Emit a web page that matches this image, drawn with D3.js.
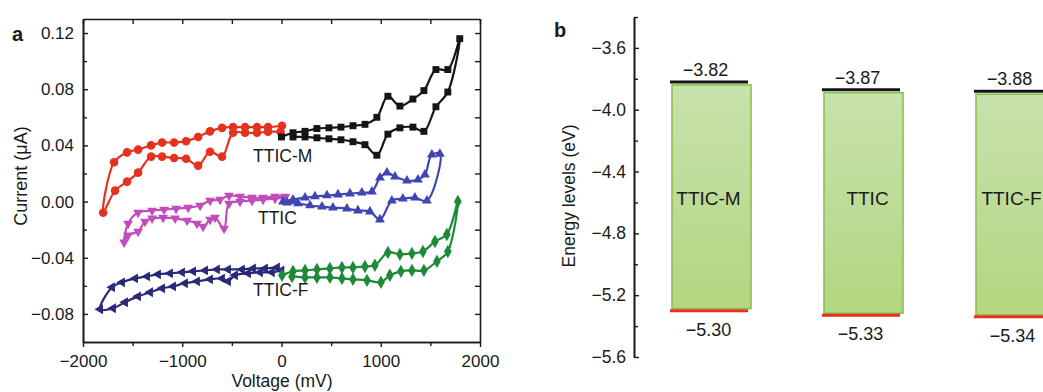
<!DOCTYPE html>
<html>
<head>
<meta charset="utf-8">
<script src="https://cdn.jsdelivr.net/npm/d3@7"></script>
<style>
  body { margin: 0; background: #fff; }
  text { font-family: "Liberation Sans", Arial, sans-serif; fill: #1a1a1a; }
</style>
</head>
<body>
<div id="chart"></div>
<script>
// ---- panel a: cyclic voltammetry, [voltage mV, current uA] along each sweep ----
var ttcmSweep = [[-10,0.0497],[-136,0.0497],[-247,0.049],[-367,0.049],[-488,0.049],[-599,0.032],[-720,0.0355],[-840,0.0256],[-961,0.0305],[-1082,0.031],[-1203,0.032],[-1314,0.032],[-1445,0.0206],[-1556,0.0142],[-1677,0.0078],[-1797,-0.008],[-1687,0.028],[-1556,0.035],[-1445,0.037],[-1314,0.040],[-1203,0.042],[-1082,0.042],[-961,0.043],[-840,0.046],[-720,0.050],[-599,0.0525],[-488,0.053],[-367,0.053],[-247,0.053],[-136,0.053],[5,0.054]];
var ttcmOx = [[0,0.046],[116,0.049],[237,0.050],[357,0.052],[478,0.0525],[599,0.053],[720,0.054],[841,0.055],[961,0.060],[1072,0.075],[1193,0.068],[1324,0.073],[1435,0.079],[1556,0.094],[1676,0.094],[1796,0.116],[1676,0.078],[1556,0.0675],[1435,0.050],[1324,0.053],[1193,0.0525],[1072,0.048],[961,0.033],[841,0.0405],[720,0.0426],[599,0.044],[478,0.0447],[357,0.0454],[237,0.046],[116,0.046]];
var ttcRed = [[35,0.0036],[-65,0.0036],[-186,0.0028],[-297,0.0028],[-418,0.0036],[-529,0.0043],[-619,0.0014],[-720,0.0007],[-820,-0.0028],[-941,-0.0043],[-1062,-0.005],[-1183,-0.0057],[-1304,-0.0064],[-1445,-0.0078],[-1546,-0.0156],[-1586,-0.029],[-1546,-0.024],[-1445,-0.0213],[-1375,-0.0142],[-1304,-0.012],[-1193,-0.0114],[-1072,-0.012],[-951,-0.0135],[-851,-0.0156],[-790,-0.0178],[-720,-0.0128],[-670,-0.0114],[-579,-0.0192],[-529,-0.0014],[-418,0],[-297,0.0007],[-186,0.0014],[-65,0.0021],[35,0.0028]];
var ttcOx = [[15,0],[116,0.0014],[237,0.0028],[337,0.0036],[458,0.0043],[569,0.005],[690,0.0057],[810,0.0064],[911,0.0071],[992,0.017],[1062,0.0206],[1143,0.0178],[1264,0.0149],[1375,0.0156],[1445,0.0192],[1515,0.0334],[1596,0.034],[1465,0.0007],[1344,0.0028],[1223,0.0021],[1112,0.0007],[992,-0.0128],[891,-0.0071],[770,-0.0064],[659,-0.005],[518,-0.0043],[408,-0.0036],[287,-0.0028],[166,-0.0014],[55,-0.0007]];
var ttcfRed = [[-45,-0.0469],[-166,-0.0476],[-287,-0.0476],[-398,-0.0483],[-539,-0.0483],[-650,-0.0483],[-770,-0.049],[-891,-0.0497],[-1002,-0.0504],[-1123,-0.0511],[-1244,-0.0518],[-1354,-0.0533],[-1475,-0.0547],[-1606,-0.0575],[-1707,-0.061],[-1827,-0.0767],[-1697,-0.076],[-1576,-0.0717],[-1445,-0.0675],[-1324,-0.0646],[-1203,-0.0618],[-1092,-0.0604],[-972,-0.0582],[-851,-0.0568],[-720,-0.0554],[-599,-0.0547],[-539,-0.0568],[-468,-0.0525],[-337,-0.0511],[-216,-0.0504],[-96,-0.0504],[0,-0.049]];
var ttcfOx = [[5,-0.0525],[116,-0.0497],[237,-0.049],[357,-0.0483],[488,-0.0476],[609,-0.0469],[720,-0.0469],[841,-0.0462],[941,-0.0454],[1072,-0.0362],[1193,-0.0376],[1314,-0.0369],[1425,-0.0355],[1546,-0.0284],[1666,-0.0234],[1777,0],[1676,-0.0355],[1566,-0.0426],[1435,-0.049],[1314,-0.049],[1203,-0.0497],[1092,-0.0525],[1002,-0.0575],[861,-0.0561],[720,-0.0554],[609,-0.0547],[488,-0.054],[357,-0.054],[237,-0.054],[106,-0.0533]];

var voltTicks = [-2000, -1000, 0, 1000, 2000];
var voltMinor = [-1500, -500, 500, 1500];
var currTicks = [-0.08, -0.04, 0, 0.04, 0.08, 0.12];
var currMinor = [-0.06, -0.02, 0.02, 0.06, 0.10];

var cvLabels = ["TTIC-M", "TTIC", "TTIC-F"];
var cvLabelPos = [[-287, 0.0284], [-237, -0.0163], [-287, -0.0675]];

// ---- panel b: energy levels ----
var molecules = ["TTIC-M", "TTIC", "TTIC-F"];
var lumo = [-3.82, -3.87, -3.88];
var homo = [-5.30, -5.33, -5.34];
var energyTicks = [-5.6, -5.2, -4.8, -4.4, -4.0, -3.6];
var energyMinor = [-5.4, -5.0, -4.6, -4.2, -3.8, -3.4];

var W = 1043, H = 392;
var svg = d3.select("#chart").append("svg")
  .attr("width", W).attr("height", H);

// ================= panel a =================
var x = d3.scaleLinear().domain([-2000, 2000]).range([83, 480]);
var y = d3.scaleLinear().domain([-0.10, 0.13]).range([342, 19]);
var fmtV = d3.format("d"), fmtI = d3.format(".2f");

function styleAxis(g) {
  g.selectAll("path.domain").attr("stroke", "#1a1a1a").attr("stroke-width", 1.6);
  g.selectAll(".tick line").attr("stroke", "#1a1a1a").attr("stroke-width", 1.4);
  g.selectAll("text").attr("font-size", 17).attr("fill", "#1a1a1a")
    .attr("font-family", "Liberation Sans, Arial, sans-serif");
}

// bottom (ticks outward)
svg.append("g").attr("transform", "translate(0,342)")
  .call(d3.axisBottom(x).tickValues(voltTicks).tickFormat(fmtV).tickSize(5).tickSizeOuter(0).tickPadding(8))
  .call(styleAxis);
svg.append("g").attr("transform", "translate(0,342)")
  .call(d3.axisBottom(x).tickValues(voltMinor).tickFormat("").tickSize(4).tickSizeOuter(0))
  .call(styleAxis);
// top (inward)
svg.append("g").attr("transform", "translate(0,19)")
  .call(d3.axisTop(x).tickValues(voltTicks.concat(voltMinor)).tickFormat("").tickSize(-5).tickSizeOuter(0))
  .call(styleAxis);
// left (inward)
svg.append("g").attr("transform", "translate(83,0)")
  .call(d3.axisLeft(y).tickValues(currTicks).tickFormat(fmtI).tickSize(-5).tickSizeOuter(0).tickPadding(9))
  .call(styleAxis);
svg.append("g").attr("transform", "translate(83,0)")
  .call(d3.axisLeft(y).tickValues(currMinor).tickFormat("").tickSize(-4).tickSizeOuter(0))
  .call(styleAxis);
// right (inward)
svg.append("g").attr("transform", "translate(480,0)")
  .call(d3.axisRight(y).tickValues(currTicks.concat(currMinor)).tickFormat("").tickSize(-5).tickSizeOuter(0))
  .call(styleAxis);

svg.append("text").attr("x", 282).attr("y", 387).attr("text-anchor", "middle")
  .attr("font-size", 17.5).text("Voltage (mV)");
svg.append("text").attr("transform", "translate(27,176) rotate(-90)").attr("text-anchor", "middle")
  .attr("font-size", 18).text("Current (μA)");
svg.append("text").attr("x", 12).attr("y", 41).attr("font-size", 20).attr("font-weight", "bold").text("a");

var line = d3.line().x(function(d) { return x(d[0]); }).y(function(d) { return y(d[1]); })
  .curve(d3.curveCatmullRom.alpha(0.5));

var series = [
  { data: ttcmSweep, color: "#e5321f", sym: d3.symbolCircle, size: 58, rot: 0 },
  { data: ttcmOx, color: "#151515", sym: d3.symbolSquare, size: 48, rot: 0 },
  { data: ttcRed, color: "#c24cbd", sym: d3.symbolTriangle, size: 42, rot: 180 },
  { data: ttcOx, color: "#3f46b2", sym: d3.symbolTriangle, size: 42, rot: 0 },
  { data: ttcfRed, color: "#2a2878", sym: d3.symbolTriangle, size: 42, rot: -90 },
  { data: ttcfOx, color: "#1c8a37", sym: d3.symbolDiamond, size: 52, rot: 0 }
];

series.forEach(function(s) {
  svg.append("path").datum(s.data)
    .attr("d", line)
    .attr("fill", "none")
    .attr("stroke", s.color)
    .attr("stroke-width", 2.2);
  svg.selectAll(null).data(s.data).enter().append("path")
    .attr("d", d3.symbol().type(s.sym).size(s.size))
    .attr("transform", function(d) { return "translate(" + x(d[0]) + "," + y(d[1]) + ") rotate(" + s.rot + ")"; })
    .attr("fill", s.color);
});

svg.selectAll(null).data(cvLabels).enter().append("text")
  .attr("x", function(d, i) { return x(cvLabelPos[i][0]); })
  .attr("y", function(d, i) { return y(cvLabelPos[i][1]); })
  .attr("font-size", 17.5)
  .text(function(d) { return d; });

// ================= panel b =================
var yE = d3.scaleLinear().domain([-5.6, -3.4]).range([357, 17]);
var xb = d3.scaleBand().domain(molecules).range([672, 1055]).paddingInner(0.48).paddingOuter(0);

svg.append("g").attr("transform", "translate(634,0)")
  .call(d3.axisLeft(yE).tickValues(energyTicks).tickFormat(d3.format(".1f")).tickSize(-5).tickSizeOuter(0).tickPadding(8))
  .call(styleAxis)
  .call(function(g) { g.selectAll("text").attr("font-size", 17.5); });
svg.append("g").attr("transform", "translate(634,0)")
  .call(d3.axisLeft(yE).tickValues(energyMinor).tickFormat("").tickSize(-4).tickSizeOuter(0))
  .call(styleAxis);

svg.append("text").attr("transform", "translate(575,196) rotate(-90)").attr("text-anchor", "middle")
  .attr("font-size", 17.5).text("Energy levels (eV)");
svg.append("text").attr("x", 554).attr("y", 37).attr("font-size", 20).attr("font-weight", "bold").text("b");

var grad = svg.append("defs").append("linearGradient").attr("id", "barGrad")
  .attr("x1", 0).attr("y1", 0).attr("x2", 0).attr("y2", 1);
grad.append("stop").attr("offset", "0%").attr("stop-color", "#c8e2ac");
grad.append("stop").attr("offset", "100%").attr("stop-color", "#b2d681");

var bw = xb.bandwidth();
var nameShift = [-3, 4, -4];
molecules.forEach(function(m, i) {
  var x0 = xb(m);
  svg.append("rect")
    .attr("x", x0).attr("y", yE(lumo[i]) + 3)
    .attr("width", bw).attr("height", yE(homo[i]) - yE(lumo[i]) - 5)
    .attr("fill", "url(#barGrad)")
    .attr("stroke", "#86bc4b").attr("stroke-width", 1.5);
  svg.append("line")
    .attr("x1", x0 - 2).attr("x2", x0 + bw - 3)
    .attr("y1", yE(lumo[i])).attr("y2", yE(lumo[i]))
    .attr("stroke", "#151515").attr("stroke-width", 3);
  svg.append("line")
    .attr("x1", x0 - 2).attr("x2", x0 + bw - 3)
    .attr("y1", yE(homo[i])).attr("y2", yE(homo[i]))
    .attr("stroke", "#e5321f").attr("stroke-width", 3);
  svg.append("text")
    .attr("x", x0 + bw / 2 - 6).attr("y", yE(lumo[i]) - 6)
    .attr("text-anchor", "middle").attr("font-size", 18)
    .text(d3.format(".2f")(lumo[i]));
  svg.append("text")
    .attr("x", x0 + bw / 2 - 3).attr("y", yE(homo[i]) + 25)
    .attr("text-anchor", "middle").attr("font-size", 18)
    .text(d3.format(".2f")(homo[i]));
  svg.append("text")
    .attr("x", x0 + bw / 2 + nameShift[i]).attr("y", 205)
    .attr("text-anchor", "middle").attr("font-size", 19)
    .text(m);
});
</script>
</body>
</html>
